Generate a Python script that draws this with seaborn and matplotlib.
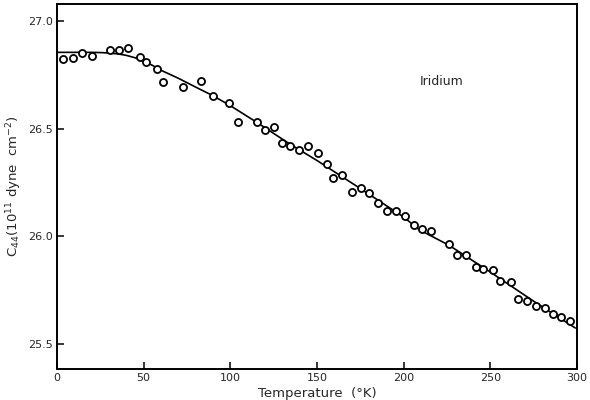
import matplotlib
matplotlib.use("Agg")
import matplotlib.pyplot as plt
import seaborn as sns
import numpy as np
import pandas as pd

# measured points (temperature K, C44 in 1e11 dyne/cm^2)
temp_pts = [3.6, 9.1, 14.2, 20.0, 30.8, 35.8, 41.0, 47.7, 51.1, 57.5, 61.3, 72.9,
            82.9, 90.0, 99.4, 104.4, 115.2, 119.8, 125.2, 129.6, 134.6, 139.6,
            144.6, 150.7, 155.6, 159.4, 164.3, 170.4, 175.4, 180.0, 185.4, 190.4,
            195.6, 200.6, 206.0, 210.4, 215.6, 226.2, 230.6, 236.1, 241.6, 245.8,
            251.4, 255.8, 261.8, 266.1, 271.3, 276.3, 281.5, 286.3, 290.6, 295.7]
c44_pts = [26.821, 26.826, 26.850, 26.838, 26.866, 26.866, 26.872, 26.833, 26.810,
           26.775, 26.715, 26.692, 26.722, 26.653, 26.619, 26.530, 26.530, 26.491,
           26.505, 26.431, 26.420, 26.401, 26.417, 26.387, 26.337, 26.273, 26.286,
           26.207, 26.224, 26.201, 26.157, 26.120, 26.120, 26.093, 26.053, 26.036,
           26.026, 25.963, 25.912, 25.915, 25.860, 25.850, 25.843, 25.792, 25.787,
           25.708, 25.702, 25.679, 25.667, 25.642, 25.628, 25.610]

# fitted curve
temp_fit = [0, 10, 20, 25, 30, 35, 40, 45, 50, 55, 60, 70, 80, 90, 100, 115, 134,
            150, 175, 200, 209, 226, 250, 275, 299]
c44_fit = [26.853, 26.853, 26.853, 26.852, 26.850, 26.846, 26.839, 26.828, 26.812,
           26.793, 26.770, 26.733, 26.692, 26.652, 26.606, 26.530, 26.430, 26.352,
           26.222, 26.090, 26.031, 25.960, 25.835, 25.700, 25.576]

x_ticks = [0, 50, 100, 150, 200, 250, 300]
y_ticks = [25.5, 26.0, 26.5, 27.0]

sns.set_style("ticks")
plt.rcParams['font.family'] = ['DejaVu Sans']

fig = plt.figure(figsize=(5.9, 4.0), dpi=100)
ax = fig.add_axes([57/590, 31/400, 520/590, 365/400])

pts = pd.DataFrame({"T": temp_pts, "C": c44_pts})
fit = pd.DataFrame({"T": temp_fit, "C": c44_fit})

sns.lineplot(data=fit, x="T", y="C", ax=ax, color="black", linewidth=1.2,
             estimator=None, sort=True)
sns.scatterplot(data=pts, x="T", y="C", ax=ax, marker="o", s=26,
                facecolor="white", edgecolor="black", linewidth=1.3, zorder=3)

ax.set_xlim(0, 300)
ax.set_ylim(25.386, 27.077)
ax.set_xticks(x_ticks)
ax.set_xticklabels([str(v) for v in x_ticks])
ax.set_yticks(y_ticks)
ax.set_yticklabels([f"{v:.1f}" for v in y_ticks])
ax.tick_params(direction="in", length=5, width=1.3, labelsize=8, pad=3)
for sp in ax.spines.values():
    sp.set_visible(True)
    sp.set_linewidth(1.4)
    sp.set_color("black")

ax.set_xlabel("Temperature  (°K)", fontsize=9.5, labelpad=3)
ax.set_ylabel(r"C$_{44}$(10$^{11}$ dyne  cm$^{-2}$)", fontsize=9.5, labelpad=3)
ax.text(222, 26.718, "Iridium", fontsize=9, ha="center", va="center")

fig.savefig("out.png", dpi=100)
